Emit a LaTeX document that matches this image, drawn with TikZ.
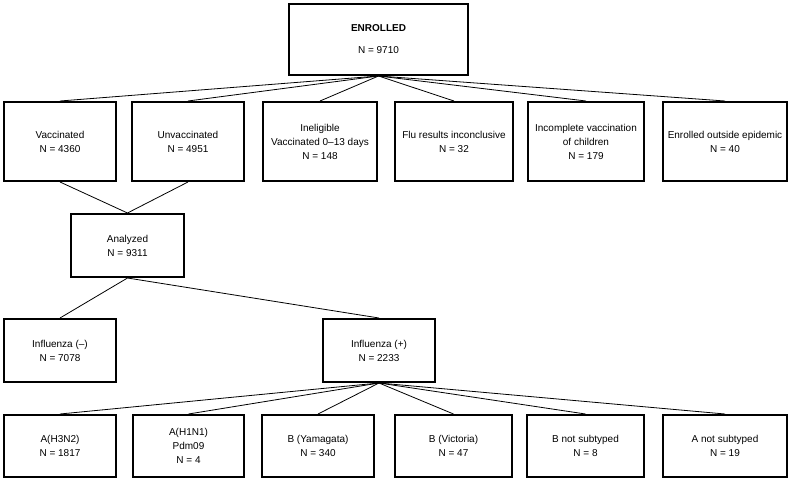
\documentclass[tikz,border=0pt]{standalone}
\usepackage{fontspec}
\setmainfont{Liberation Sans}
\begin{document}
\begin{tikzpicture}[x=1pt,y=-1pt,
  box/.style={draw=black,line width=2pt,align=center,font=\fontsize{10}{14}\selectfont,inner sep=0pt},
  conn/.style={draw=black,line width=0.8pt}]
\useasboundingbox (0,0) rectangle (792,484);
% top
\node[box,minimum width=179pt,minimum height=71pt] (enr) at (378.5,39.5) {\textbf{ENROLLED}\\[8pt]N = 9710};
% row 2
\node[box,minimum width=112pt,minimum height=79pt] (vac) at (60,141.5) {Vaccinated\\N = 4360};
\node[box,minimum width=112pt,minimum height=79pt] (unv) at (188,141.5) {Unvaccinated\\N = 4951};
\node[box,minimum width=114pt,minimum height=79pt] (inel) at (320,141.5) {Ineligible\\Vaccinated 0–13 days\\N = 148};
\node[box,minimum width=118pt,minimum height=79pt] (flu) at (454,141.5) {Flu results inconclusive\\N = 32};
\node[box,minimum width=116pt,minimum height=79pt] (inc) at (586,141.5) {Incomplete vaccination\\of children\\N = 179};
\node[box,minimum width=124pt,minimum height=79pt] (out) at (725,141.5) {Enrolled outside epidemic\\N = 40};
% analyzed
\node[box,minimum width=113pt,minimum height=63pt] (ana) at (127.5,245.5) {Analyzed\\N = 9311};
% influenza
\node[box,minimum width=112pt,minimum height=63pt] (neg) at (60,350.5) {Influenza (–)\\N = 7078};
\node[box,minimum width=112pt,minimum height=63pt] (pos) at (379,350.5) {Influenza (+)\\N = 2233};
% bottom row
\node[box,minimum width=112pt,minimum height=62pt] (h3) at (60,446) {A(H3N2)\\N = 1817};
\node[box,minimum width=111pt,minimum height=62pt] (h1) at (188.5,446) {A(H1N1)\\Pdm09\\N = 4};
\node[box,minimum width=112pt,minimum height=62pt] (bya) at (318,446) {B (Yamagata)\\N = 340};
\node[box,minimum width=117pt,minimum height=62pt] (bvi) at (453.5,446) {B (Victoria)\\N = 47};
\node[box,minimum width=117pt,minimum height=62pt] (bns) at (585.5,446) {B not subtyped\\N = 8};
\node[box,minimum width=124pt,minimum height=62pt] (ans) at (725,446) {A not subtyped\\N = 19};
% connectors
\foreach \t in {vac,unv,inel,flu,inc,out} \draw[conn] (enr.south) -- (\t.north);
\draw[conn] (vac.south) -- (ana.north);
\draw[conn] (unv.south) -- (ana.north);
\draw[conn] (ana.south) -- (neg.north);
\draw[conn] (ana.south) -- (pos.north);
\foreach \t in {h3,h1,bya,bvi,bns,ans} \draw[conn] (pos.south) -- (\t.north);
\end{tikzpicture}
\end{document}
